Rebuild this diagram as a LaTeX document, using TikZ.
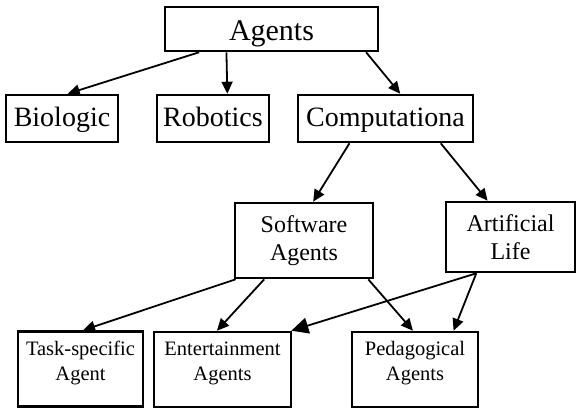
\documentclass[tikz,border=0pt]{standalone}
\usepackage{fontspec}
\setmainfont{Liberation Serif}
\usetikzlibrary{arrows.meta,calc}
\newcommand\edgept[3]{($(#1.#2 west)!#3!(#1.#2 east)$)}
\begin{document}
\begin{tikzpicture}[x=1pt,y=-1pt,
  box/.style={draw=black,line width=2.6pt,rectangle,inner sep=0pt,align=center},
  topfont/.style={font=\fontsize{28}{32}\selectfont,text height=21pt,text depth=6pt},
  midfont/.style={font=\fontsize{24}{28.5}\selectfont},
  lowbox/.style={box,minimum width=#1,minimum height=75pt},
  lowtext/.style={font=\fontsize{20.5}{25}\selectfont,align=center},
  conn/.style={line width=1.8pt,-{Triangle[length=12pt,width=11pt]}},
  bigconn/.style={line width=1.8pt,-{Triangle[length=17pt,width=16pt]}}]
\useasboundingbox (0,0) rectangle (577,408);
% nodes
\node[box,font=\fontsize{30}{34}\selectfont,text height=22pt,text depth=0pt,minimum width=213pt,minimum height=44pt] (agents) at (271.5,29) {Agents};
\node[box,topfont,minimum width=112pt,minimum height=47pt] (bio) at (62,118.5) {Biologic};
\node[box,topfont,minimum width=112pt,minimum height=47pt] (rob) at (213,118.5) {Robotics};
\node[box,topfont,minimum width=175pt,minimum height=47pt] (comp) at (385.5,118.5) {Computationa};
\node[box,midfont,minimum width=138pt,minimum height=75pt] (soft) at (304,240.5) {Software\\Agents};
\node[box,midfont,minimum width=129pt,minimum height=70pt] (art) at (510.5,237) {Artificial\\Life};
\node[lowbox=125pt,label={[lowtext,yshift=6pt]center:Task-specific\\Agent}] (task) at (80.5,369) {};
\node[lowbox=137pt,label={[lowtext,yshift=6pt]center:Entertainment\\Agents}] (ent) at (222.5,369.5) {};
\node[lowbox=126pt,label={[lowtext,yshift=6pt]center:Pedagogical\\Agents}] (ped) at (415,369.5) {};
% connectors
\draw[conn] \edgept{agents}{south}{0.164} -- \edgept{bio}{north}{0.55};
\draw[conn] \edgept{agents}{south}{0.291} -- \edgept{rob}{north}{0.625};
\draw[conn] \edgept{agents}{south}{0.939} -- \edgept{comp}{north}{0.583};
\draw[conn] \edgept{comp}{south}{0.297} -- \edgept{soft}{north}{0.565};
\draw[conn] \edgept{comp}{south}{0.811} -- \edgept{art}{north}{0.326};
\draw[conn] \edgept{soft}{south}{0.014} -- \edgept{task}{north}{0.52};
\draw[conn] \edgept{soft}{south}{0.217} -- \edgept{ent}{north}{0.46};
\draw[conn] \edgept{soft}{south}{0.957} -- \edgept{ped}{north}{0.484};
\draw[bigconn] \edgept{art}{south}{0.24} -- \edgept{ent}{north}{0.993};
\draw[conn] \edgept{art}{south}{0.24} -- \edgept{ped}{north}{0.80};
\end{tikzpicture}
\end{document}
